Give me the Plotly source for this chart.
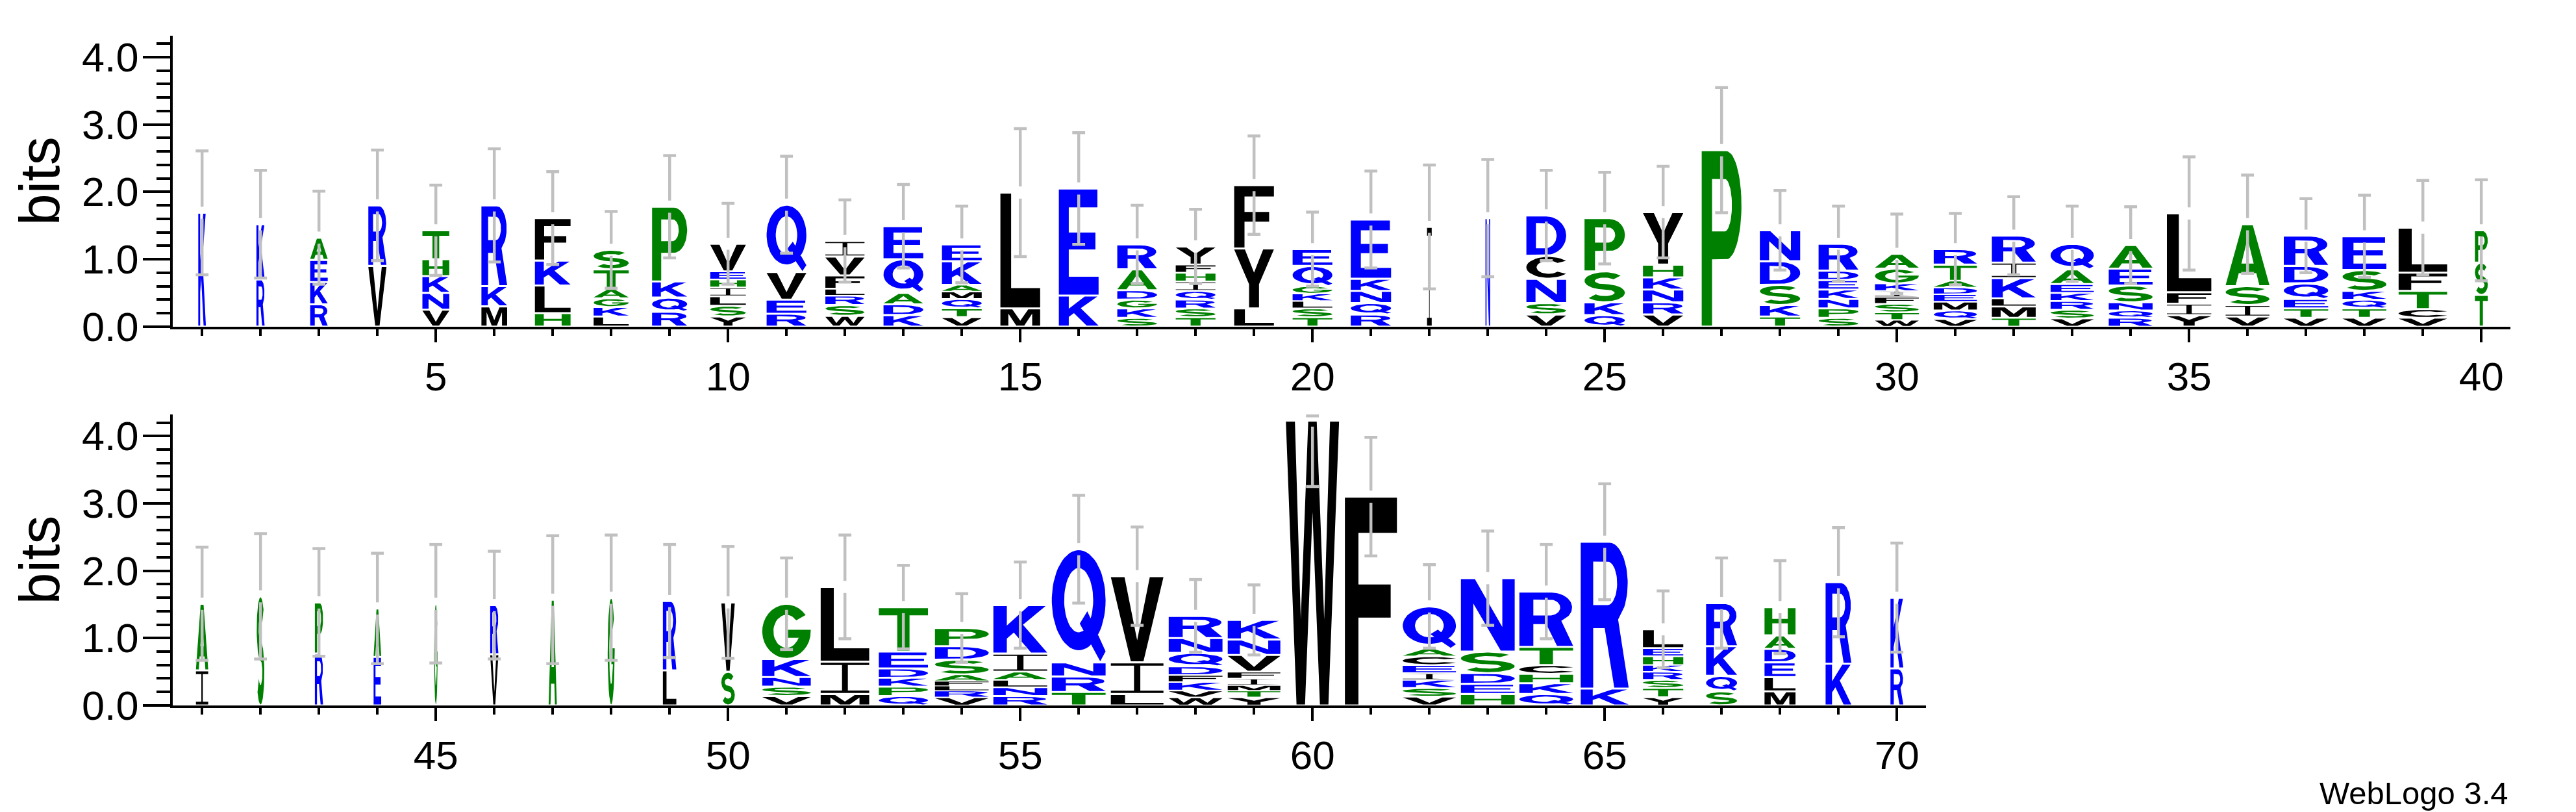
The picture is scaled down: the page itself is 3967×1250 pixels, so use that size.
import numpy as np
import plotly.graph_objects as go

positions = list(range(1, 71))

# residues of each stack, bottom to top
stack_letters = [
    "K", "RK", "RKEA", "VR", "VNKHT", "MKR", "HLKF", "LKGATS", "RQKP", "YSLIHEV",
    "REVQ", "WSRLFVI", "KDAQE", "VTQMAKE", "ML", "KE", "SKGDAR", "TSRQIHFY", "LYF", "TSLKGQE",
    "RQNKE", "I", "N", "VSNCD", "QKSP", "VRNKHY", "P", "TKSDN", "SPNKEDR", "WTSFIKGA",
    "VQMEDATR", "TMLKIR", "VSRKEAQ", "RQNSEA", "YIFL", "VISA", "VTEQDR", "VTQKSE", "VCTFL", "TSP",
    "IA", "S", "RP", "EA", "G", "VR", "A", "G", "LR", "SV",
    "VSNKG", "MIL", "QPKDET", "VRLFASDP", "RNLAIK", "TRNQ", "LIV", "WVKFDQNR", "YTMIFVNK", "W",
    "F", "VSKIECAQ", "HEDSN", "QKHCTR", "KR", "YTSRKHEL", "SQKR", "MLEDAH", "KR", "RK",
]

# letter heights in bits, same order as stack_letters
stack_bits = [
    [1.69], [0.70, 0.82], [0.33, 0.33, 0.33, 0.33], [0.90, 0.90], [0.25, 0.25, 0.25, 0.25, 0.43],
    [0.30, 0.30, 1.20], [0.20, 0.41, 0.37, 0.63], [0.15, 0.14, 0.13, 0.14, 0.29, 0.29],
    [0.22, 0.21, 0.24, 1.11], [0.15, 0.16, 0.14, 0.13, 0.12, 0.12, 0.41],
    [0.19, 0.21, 0.41, 1.00], [0.16, 0.16, 0.14, 0.10, 0.20, 0.28, 0.23],
    [0.17, 0.16, 0.17, 0.50, 0.49], [0.14, 0.13, 0.14, 0.11, 0.10, 0.35, 0.25],
    [0.27, 1.72], [0.46, 1.59], [0.13, 0.14, 0.13, 0.14, 0.31, 0.37],
    [0.14, 0.13, 0.13, 0.13, 0.14, 0.13, 0.12, 0.27], [0.27, 0.89, 0.94],
    [0.14, 0.13, 0.11, 0.11, 0.11, 0.30, 0.25],
    [0.18, 0.17, 0.18, 0.18, 0.88], [1.48], [1.61], [0.18, 0.17, 0.36, 0.34, 0.60],
    [0.17, 0.19, 0.46, 0.79], [0.18, 0.18, 0.19, 0.18, 0.19, 0.78], [2.62],
    [0.15, 0.17, 0.30, 0.35, 0.46], [0.13, 0.14, 0.14, 0.14, 0.14, 0.14, 0.40],
    [0.10, 0.11, 0.13, 0.10, 0.09, 0.11, 0.22, 0.22],
    [0.11, 0.13, 0.13, 0.11, 0.10, 0.10, 0.24, 0.23], [0.13, 0.17, 0.12, 0.30, 0.23, 0.40],
    [0.12, 0.13, 0.13, 0.12, 0.13, 0.22, 0.38], [0.13, 0.11, 0.12, 0.25, 0.25, 0.35],
    [0.17, 0.17, 0.17, 1.17], [0.15, 0.17, 0.28, 0.92], [0.13, 0.14, 0.14, 0.23, 0.26, 0.45],
    [0.13, 0.14, 0.13, 0.13, 0.31, 0.50], [0.13, 0.13, 0.27, 0.27, 0.67], [0.47, 0.48, 0.48],
    [0.52, 0.99], [1.62], [0.77, 0.76], [0.72, 0.72], [1.51], [0.76, 0.73], [1.57], [1.60],
    [0.52, 1.03], [0.50, 1.03],
    [0.14, 0.14, 0.14, 0.27, 0.82], [0.17, 0.48, 1.11], [0.14, 0.14, 0.13, 0.14, 0.25, 0.66],
    [0.12, 0.10, 0.07, 0.07, 0.10, 0.22, 0.20, 0.27], [0.14, 0.13, 0.11, 0.12, 0.27, 0.72],
    [0.20, 0.23, 0.21, 1.68], [0.17, 0.47, 1.28], [0.12, 0.10, 0.13, 0.10, 0.13, 0.20, 0.22, 0.33],
    [0.12, 0.10, 0.08, 0.10, 0.10, 0.25, 0.23, 0.29], [4.23],
    [3.10], [0.13, 0.13, 0.12, 0.10, 0.12, 0.13, 0.11, 0.63], [0.17, 0.15, 0.16, 0.32, 1.09],
    [0.17, 0.16, 0.14, 0.13, 0.27, 0.82], [0.25, 2.18], [0.12, 0.14, 0.12, 0.12, 0.10, 0.13, 0.12, 0.28],
    [0.21, 0.23, 0.44, 0.64], [0.21, 0.21, 0.22, 0.20, 0.20, 0.42], [0.62, 1.21], [0.55, 1.05],
]

# stack widths (fraction of a position) - scaled by sequence occupancy
stack_widths = [
    0.13, 0.14, 0.30, 0.31, 0.46, 0.44, 0.61, 0.60, 0.60, 0.61,
    0.68, 0.67, 0.68, 0.68, 0.68, 0.68, 0.68, 0.68, 0.68, 0.68,
    0.69, 0.08, 0.08, 0.68, 0.69, 0.69, 0.68, 0.69, 0.68, 0.75,
    0.74, 0.75, 0.74, 0.75, 0.76, 0.75, 0.76, 0.75, 0.83, 0.22,
    0.21, 0.13, 0.14, 0.13, 0.06, 0.14, 0.14, 0.12, 0.23, 0.23,
    0.83, 0.83, 0.84, 0.92, 0.92, 0.92, 0.90, 0.92, 0.90, 0.91,
    0.89, 0.91, 0.92, 0.92, 0.82, 0.69, 0.53, 0.53, 0.44, 0.22,
]

# error bar half-lengths (bits)
error_bits = [
    0.92, 0.80, 0.69, 0.82, 0.67, 0.84, 0.69, 0.57, 0.76, 0.60,
    0.72, 0.61, 0.62, 0.57, 0.95, 0.83, 0.58, 0.55, 0.73, 0.55,
    0.72, 0.92, 0.87, 0.67, 0.68, 0.68, 0.93, 0.59, 0.56, 0.59,
    0.53, 0.58, 0.56, 0.57, 0.84, 0.73, 0.55, 0.61, 0.70, 0.75,
    0.84, 0.93, 0.80, 0.82, 0.88, 0.80, 0.95, 0.93, 0.84, 0.83,
    0.68, 0.77, 0.62, 0.51, 0.64, 0.80, 0.73, 0.54, 0.52, 0.98,
    0.88, 0.62, 0.70, 0.70, 0.86, 0.57, 0.67, 0.69, 0.81, 0.81,
]

# hydrophobicity colour scheme
colour_groups = {
    "#0000FF": "RKDENQ",
    "#008000": "SGHTAP",
    "#000000": "YVMCLFIW",
}

Y_MAX = 4.32   # log2(20)

# ---------------- letter outlines (unit box) ----------------
def arc(cx, cy, rx, ry, a0, a1, n=30):
    t = np.radians(np.linspace(a0, a1, n))
    return [(cx + rx * np.cos(a), cy + ry * np.sin(a)) for a in t]


def band(path, half):
    p = np.asarray(path, float)
    d = np.gradient(p, axis=0)
    nrm = np.column_stack([-d[:, 1], d[:, 0]])
    nrm /= np.hypot(nrm[:, 0], nrm[:, 1])[:, None]
    return [tuple(q) for q in np.vstack([p + half * nrm, (p - half * nrm)[::-1]])]


def signed_area(c):
    x, y = c[:, 0], c[:, 1]
    return 0.5 * np.sum(x * np.roll(y, -1) - np.roll(x, -1) * y)


s_path = arc(0, 1, 1.3, 1, 35, 270, 40) + arc(0, -1, 1.3, 1, 90, -145, 40)[1:]

raw_glyphs = {
    "A": ([[(0, 0), (0.23, 0), (0.3, 0.2), (0.7, 0.2), (0.77, 0), (1, 0), (0.62, 1), (0.38, 1)]],
          [[(0.36, 0.36), (0.64, 0.36), (0.5, 0.78)]]),
    "C": ([arc(0.5, 0.5, 0.5, 0.5, 38, 322) + arc(0.5, 0.5, 0.27, 0.31, 318, 42)], []),
    "D": ([[(0, 0), (0.5, 0)] + arc(0.5, 0.5, 0.5, 0.5, -90, 90) + [(0, 1)]],
          [[(0.24, 0.17), (0.47, 0.17)] + arc(0.47, 0.5, 0.29, 0.33, -90, 90) + [(0.24, 0.83)]]),
    "E": ([[(0, 0), (1, 0), (1, 0.17), (0.25, 0.17), (0.25, 0.43), (0.92, 0.43), (0.92, 0.59),
            (0.25, 0.59), (0.25, 0.83), (0.97, 0.83), (0.97, 1), (0, 1)]], []),
    "F": ([[(0, 0), (0.26, 0), (0.26, 0.42), (0.88, 0.42), (0.88, 0.58), (0.26, 0.58),
            (0.26, 0.83), (1, 0.83), (1, 1), (0, 1)]], []),
    "G": ([arc(0.5, 0.5, 0.5, 0.5, 38, 360) + [(1, 0.53), (0.53, 0.53), (0.53, 0.38), (0.77, 0.38)]
           + arc(0.5, 0.5, 0.27, 0.31, 335, 42)], []),
    "H": ([[(0, 0), (0.25, 0), (0.25, 0.42), (0.75, 0.42), (0.75, 0), (1, 0), (1, 1), (0.75, 1),
            (0.75, 0.59), (0.25, 0.59), (0.25, 1), (0, 1)]], []),
    "I": ([[(0, 0), (1, 0), (1, 0.08), (0.56, 0.08), (0.56, 0.92), (1, 0.92), (1, 1), (0, 1),
            (0, 0.92), (0.44, 0.92), (0.44, 0.08), (0, 0.08)]], []),
    "K": ([[(0, 0), (0.25, 0), (0.25, 0.3), (0.38, 0.43), (0.7, 0), (1, 0), (0.55, 0.6),
            (0.97, 1), (0.65, 1), (0.25, 0.58), (0.25, 1), (0, 1)]], []),
    "L": ([[(0, 0), (1, 0), (1, 0.17), (0.27, 0.17), (0.27, 1), (0, 1)]], []),
    "M": ([[(0, 0), (0.2, 0), (0.2, 0.74), (0.4, 0), (0.6, 0), (0.8, 0.74), (0.8, 0), (1, 0),
            (1, 1), (0.7, 1), (0.5, 0.3), (0.3, 1), (0, 1)]], []),
    "N": ([[(0, 0), (0.23, 0), (0.23, 0.66), (0.74, 0), (1, 0), (1, 1), (0.77, 1), (0.77, 0.33),
            (0.26, 1), (0, 1)]], []),
    "P": ([[(0, 0), (0.26, 0), (0.26, 0.38), (0.62, 0.38)] + arc(0.62, 0.69, 0.38, 0.31, -90, 90) + [(0, 1)]],
          [[(0.26, 0.54), (0.58, 0.54)] + arc(0.58, 0.69, 0.18, 0.15, -90, 90) + [(0.26, 0.84)]]),
    "Q": ([arc(0.5, 0.55, 0.5, 0.45, 0, 360, 60)[:-1],
           [(0.9, 0.0), (1.0, 0.09), (0.66, 0.45), (0.52, 0.34)]],
          [arc(0.5, 0.55, 0.27, 0.29, 0, 360, 50)[:-1]]),
    "R": ([[(0, 0), (0.26, 0), (0.26, 0.41), (0.5, 0.41), (0.7, 0), (1, 0), (0.78, 0.47)]
           + arc(0.6, 0.72, 0.38, 0.28, -40, 90) + [(0, 1)]],
          [[(0.26, 0.57), (0.56, 0.57)] + arc(0.56, 0.72, 0.2, 0.15, -90, 90) + [(0.26, 0.87)]]),
    "S": ([band(s_path, 0.44)], []),
    "T": ([[(0.375, 0), (0.625, 0), (0.625, 0.83), (1, 0.83), (1, 1), (0, 1), (0, 0.83), (0.375, 0.83)]], []),
    "V": ([[(0, 1), (0.26, 1), (0.5, 0.25), (0.74, 1), (1, 1), (0.62, 0), (0.38, 0)]], []),
    "W": ([[(0, 1), (0.17, 1), (0.28, 0.3), (0.42, 1), (0.58, 1), (0.72, 0.3), (0.83, 1), (1, 1),
            (0.8, 0), (0.64, 0), (0.5, 0.68), (0.36, 0), (0.2, 0)]], []),
    "Y": ([[(0, 1), (0.27, 1), (0.5, 0.6), (0.73, 1), (1, 1), (0.625, 0.4), (0.625, 0),
            (0.375, 0), (0.375, 0.4)]], []),
}

GLYPHS = {}
for ch, (outers, holes) in raw_glyphs.items():
    outers = [np.asarray(c, float) for c in outers]
    holes = [np.asarray(c, float) for c in holes]
    allpts = np.vstack(outers)
    lo, hi = allpts.min(axis=0), allpts.max(axis=0)
    contours = []
    for c, ccw in [(c, True) for c in outers] + [(c, False) for c in holes]:
        c = (c - lo) / (hi - lo)
        if (signed_area(c) > 0) != ccw:
            c = c[::-1]
        contours.append(c)
    GLYPHS[ch] = contours

colour_of = {ch: col for col, chars in colour_groups.items() for ch in chars}

# ---------------- build figure ----------------
fig = go.Figure()
paths = {}   # (panel, colour) -> (xs, ys)
totals = []
for p, letters, bits, w in zip(positions, stack_letters, stack_bits, stack_widths):
    panel = 1 if p <= 40 else 2
    base = 0.0
    for ch, h in zip(letters, bits):
        gap = min(0.015, h * 0.1)
        y0, y1 = base + gap, base + h - gap
        xs, ys = paths.setdefault((panel, colour_of[ch]), ([], []))
        for c in GLYPHS[ch]:
            xs.extend(list(p - w / 2 + c[:, 0] * w) + [None])
            ys.extend(list(y0 + c[:, 1] * (y1 - y0)) + [None])
        base += h
    totals.append(base)

for (panel, col), (xs, ys) in paths.items():
    fig.add_trace(go.Scatter(
        x=xs, y=ys, mode="lines", fill="toself", fillcolor=col,
        line=dict(width=0, color=col), hoverinfo="skip",
        xaxis="x" if panel == 1 else "x2", yaxis="y" if panel == 1 else "y2",
    ))

# error bars: gray, capped, with a small break at the stack top
cap, brk = 0.11, 0.09
for panel in (1, 2):
    ex, ey = [], []
    for p, top, err in zip(positions, totals, error_bits):
        if (p <= 40) != (panel == 1):
            continue
        hi, lo = min(top + err, Y_MAX - 0.02), top - err
        ex += [p, p, None, p, p, None, p - cap, p + cap, None, p - cap, p + cap, None]
        ey += [top + brk, hi, None, top - brk, lo, None, hi, hi, None, lo, lo, None]
    fig.add_trace(go.Scatter(
        x=ex, y=ey, mode="lines", line=dict(color="#c0c0c0", width=4.5),
        hoverinfo="skip",
        xaxis="x" if panel == 1 else "x2", yaxis="y" if panel == 1 else "y2",
    ))

font = "Liberation Sans, Arial, Helvetica, sans-serif"
xcommon = dict(
    showline=True, linecolor="black", linewidth=4, showgrid=False, zeroline=False,
    ticks="outside", tickwidth=4, ticklen=20, tickcolor="black", tick0=0, dtick=5,
    tickfont=dict(family=font, size=62, color="black"),
    minor=dict(ticks="outside", tick0=0, dtick=1, ticklen=10, tickwidth=4,
               tickcolor="black", showgrid=False),
)
ycommon = dict(
    range=[0, Y_MAX], showline=True, linecolor="black", linewidth=4, showgrid=False,
    zeroline=False, ticks="outside", tickwidth=4, ticklen=42, tickcolor="black",
    tick0=0, dtick=1, tickformat=".1f", ticklabelstandoff=-6,
    tickfont=dict(family=font, size=63, color="black"),
    minor=dict(ticks="outside", tick0=0, dtick=0.2, ticklen=21, tickwidth=4,
               tickcolor="black", showgrid=False),
    title=dict(text="bits", font=dict(family=font, size=88, color="black"), standoff=6),
)

# page is 1289 px tall once the default 8px body margin is added
fig.update_layout(
    width=3951, height=1273, margin=dict(l=0, r=0, t=0, b=0),
    paper_bgcolor="white", plot_bgcolor="white", showlegend=False,
    xaxis=dict(xcommon, domain=[0.06535, 0.97651], range=[0.5, 40.5], anchor="y"),
    yaxis=dict(ycommon, domain=[0.60086, 0.96295], anchor="x"),
    xaxis2=dict(xcommon, domain=[0.06535, 0.74872], range=[40.5, 70.5], anchor="y2"),
    yaxis2=dict(ycommon, domain=[0.12938, 0.49145], anchor="x2"),
    annotations=[dict(text="WebLogo 3.4", x=0.97621, y=0.0204, xref="paper", yref="paper",
                      xanchor="right", yanchor="middle", showarrow=False,
                      font=dict(family=font, size=49, color="black"))],
)

fig.write_html("out.html")
